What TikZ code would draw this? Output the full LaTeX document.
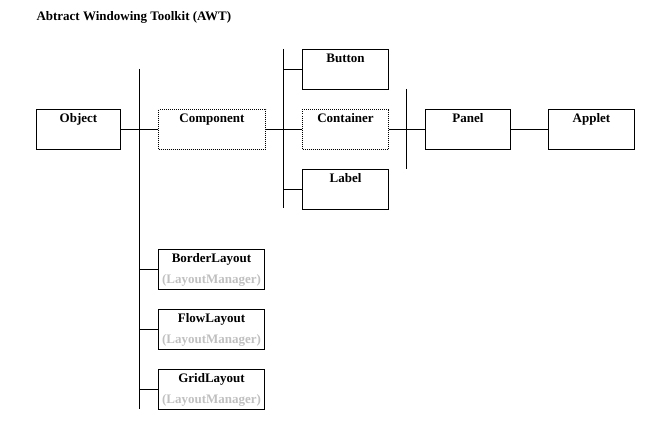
\documentclass[tikz,border=0pt]{standalone}
\usepackage{fontspec}
\setmainfont{Liberation Serif}
\usepackage{xcolor}
\usepackage{tikz}
\definecolor{silver}{HTML}{C0C0C0}

\tikzset{
  cls/.style={draw, line width=1pt, anchor=north west, inner xsep=0pt,
    inner ysep=3pt, text width=#1, align=center, text height=10pt,
    text depth=24pt, font=\fontsize{13}{16}\selectfont\bfseries},
  abstractcls/.style={cls=#1, dash pattern=on 1pt off 1pt},
}

\begin{document}
\begin{tikzpicture}[x=1pt,y=-1pt,line width=1pt]
  \useasboundingbox (0,0) rectangle (648,425);
  \node[anchor=base west, inner sep=0pt, font=\fontsize{13}{16}\selectfont\bfseries]
    (title) at (36,21) {Abtract Windowing Toolkit (AWT)};
  % trunks
  \coordinate (t1top) at (139,69);  \coordinate (t1bot) at (139,409);
  \coordinate (t2top) at (283,49);  \coordinate (t2bot) at (283,208);
  \coordinate (t3top) at (406,89);  \coordinate (t3bot) at (406,169);
  \draw (t1top) -- (t1bot);
  \draw (t2top) -- (t2bot);
  \draw (t3top) -- (t3bot);
  % classes
  \node[cls=84] (obj) at (36,109) {Object};
  \node[abstractcls=107] (comp) at (158,109) {Component};
  \node[cls=86] (btn) at (302,49) {Button};
  \node[abstractcls=86] (cont) at (302,109) {Container};
  \node[cls=86] (lbl) at (302,169) {Label};
  \node[cls=85] (panel) at (425,109) {Panel};
  \node[cls=86] (applet) at (548,109) {Applet};
  \draw (obj.east) -- (obj.east -| t1top);
  \draw (comp.west) -- (comp.west -| t1top);
  \draw (comp.east) -- (comp.east -| t2top);
  \foreach \n in {btn,cont,lbl}
    \draw (\n.west) -- (\n.west -| t2top);
  \draw (cont.east) -- (cont.east -| t3top);
  \draw (panel.west) -- (panel.west -| t3top);
  \draw (panel.east) -- (applet.west);
  % layout managers
  \foreach \n/\t/\y in {border/BorderLayout/249,flow/FlowLayout/309,grid/GridLayout/369} {
    \node[cls=106] (\n) at (158,\y) {\t\\[5pt]\textcolor{silver}{(LayoutManager)}};
    \draw (\n.west) -- (\n.west -| t1top);
  }
\end{tikzpicture}
\end{document}
